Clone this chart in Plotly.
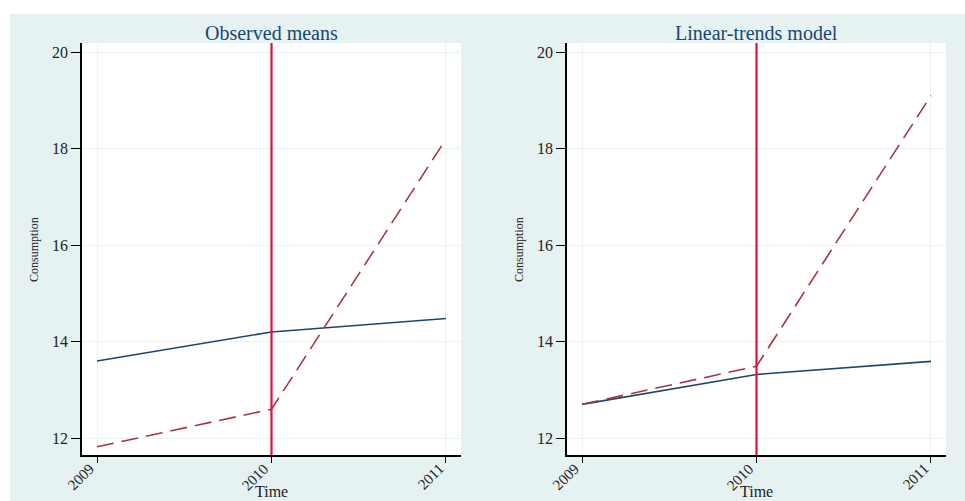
import plotly.graph_objects as go

W, H = 965, 501

years = [2009, 2010, 2011]
obs_control = [13.6, 14.2, 14.48]
obs_treated = [11.82, 12.6, 18.2]
lin_control = [12.7, 13.32, 13.59]
lin_treated = [12.7, 13.49, 19.1]
intervention_year = 2010
panel_titles = ["Observed means", "Linear-trends model"]
y_ticks = [12, 14, 16, 18, 20]

BG = "#e6f1f2"
GRID = "#eaf2f3"
NAVY = "#1a476f"
MAROON = "#a8343f"
VLINE = "#e3103f"
FONT = "Liberation Serif"

fig = go.Figure()

panels = [
    (obs_control, obs_treated, "x", "y", (82, 461)),
    (lin_control, lin_treated, "x2", "y2", (567, 946)),
]

for ctrl, trt, xa, ya, _ in panels:
    fig.add_trace(go.Scatter(x=years, y=ctrl, mode="lines", xaxis=xa, yaxis=ya,
                             line=dict(color=NAVY, width=1.6), showlegend=False))
    fig.add_trace(go.Scatter(x=years, y=trt, mode="lines", xaxis=xa, yaxis=ya,
                             line=dict(color=MAROON, width=1.6, dash="17px,8px"),
                             showlegend=False))

ydom = [1 - 455 / H, 1 - 43 / H]
common_x = dict(range=[2008.914, 2011.086], tickvals=years, showticklabels=False,
                showgrid=True, gridcolor=GRID, gridwidth=1,
                showline=True, linecolor="black", linewidth=1.5, ticks="outside",
                ticklen=6, tickcolor="black", zeroline=False, automargin=False)
common_y = dict(range=[11.65, 20.19], tickvals=y_ticks, showgrid=True, gridcolor=GRID,
                gridwidth=1, showline=True, linecolor="black", linewidth=1.5,
                ticks="outside", ticklen=9, tickcolor="black", zeroline=False,
                automargin=False,
                tickfont=dict(family=FONT, size=16, color="#222"), domain=ydom)

fig.update_layout(
    width=W, height=H, margin=dict(l=0, r=0, t=0, b=0, pad=0),
    paper_bgcolor=BG, plot_bgcolor="white",
    xaxis=dict(domain=[82 / W, 461 / W], anchor="y", **common_x),
    yaxis=dict(anchor="x", **common_y),
    xaxis2=dict(domain=[567 / W, 946 / W], anchor="y2", **common_x),
    yaxis2=dict(anchor="x2", **common_y),
)

for i, (_, _, xa, ya, (x0, x1)) in enumerate(panels):
    fig.add_shape(type="line", xref=xa, yref=f"{ya} domain", x0=intervention_year,
                  x1=intervention_year, y0=0, y1=1,
                  line=dict(color=VLINE, width=2.2), layer="above")
    # rotated x tick labels
    for yr in years:
        fig.add_annotation(text=str(yr), xref=xa, yref="paper", x=yr, y=1 - 458 / H,
                           xshift=3, showarrow=False, textangle=-45,
                           xanchor="right", yanchor="top",
                           font=dict(family=FONT, size=15, color="#222"))
    cx = (x0 + x1) / 2 / W
    fig.add_annotation(text=panel_titles[i], xref="paper", yref="paper", x=cx,
                       y=1 - 33 / H, showarrow=False, xanchor="center", yanchor="middle",
                       font=dict(family=FONT, size=20, color=NAVY))
    fig.add_annotation(text="Time", xref="paper", yref="paper", x=cx, y=1 - 491 / H,
                       showarrow=False, xanchor="center", yanchor="middle",
                       font=dict(family=FONT, size=16, color="#222"))
    fig.add_annotation(text="Consumption", xref="paper", yref="paper",
                       x=(x0 - 48) / W, y=1 - 250 / H, showarrow=False, textangle=-90,
                       xanchor="center", yanchor="middle",
                       font=dict(family=FONT, size=12, color="#222"))

# white outer border strips (top and left)
fig.add_shape(type="rect", xref="paper", yref="paper", x0=0, x1=1, y0=1 - 14 / H, y1=1,
              fillcolor="white", line_width=0, layer="below")
fig.add_shape(type="rect", xref="paper", yref="paper", x0=0, x1=10 / W, y0=0, y1=1,
              fillcolor="white", line_width=0, layer="below")

fig.write_html("out.html", config={"displayModeBar": False},
               post_script="document.body.style.margin='0';document.body.style.overflow='hidden';")
